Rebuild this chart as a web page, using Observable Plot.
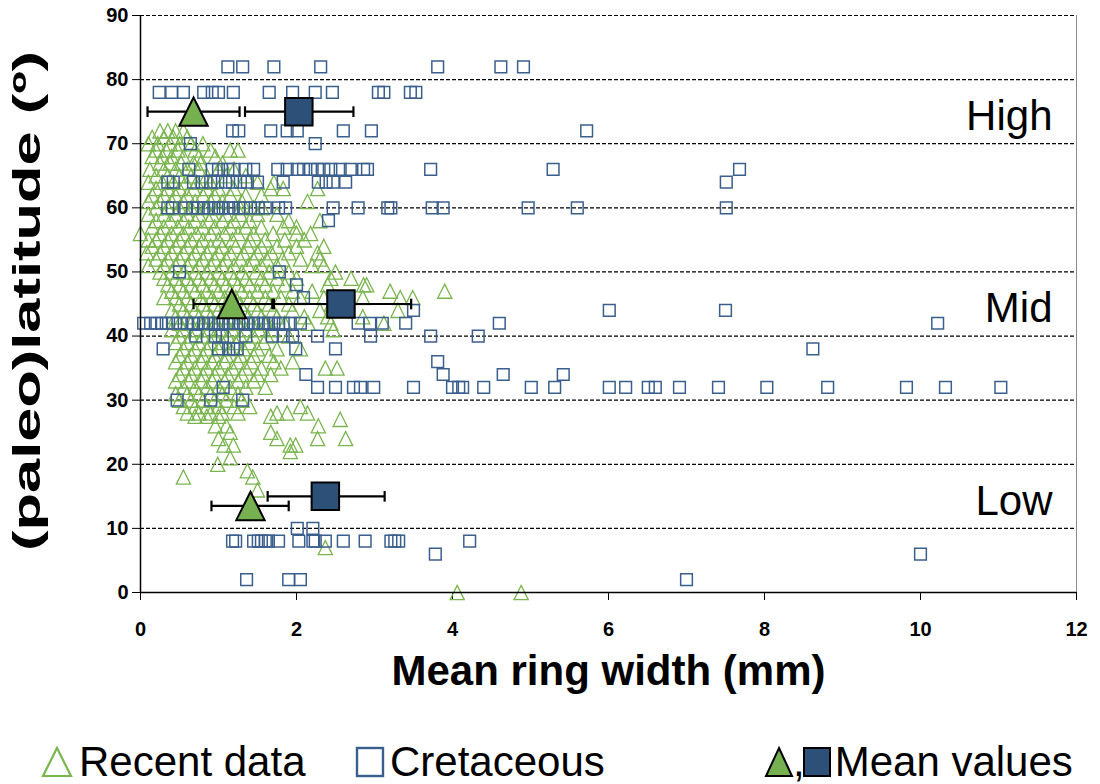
<!DOCTYPE html>
<html>
<head>
<meta charset="utf-8">
<script src="https://cdn.jsdelivr.net/npm/d3@7"></script>
<script src="https://cdn.jsdelivr.net/npm/@observablehq/plot@0.6"></script>
<style>
  body { margin: 0; background: #fff; font-family: "Liberation Sans", Arial, sans-serif; }
  #chart { width: 1100px; height: 712px; }
  #legend { position: relative; width: 1100px; height: 72px; font-size: 42px; color: #000; }
  #legend .it { position: absolute; top: 14px; height: 72px; display: flex; align-items: center; white-space: nowrap; }
  #legend svg { display: block; }
</style>
</head>
<body>
<div id="chart"></div>
<div id="legend">
  <div class="it" style="left:41px"><svg width="32" height="34"><path d="M16,3 L30,31 L2,31Z" fill="none" stroke="#7ab54f" stroke-width="2.2"/></svg><span style="margin-left:6px">Recent data</span></div>
  <div class="it" style="left:354px"><svg width="32" height="34"><rect x="3" y="3" width="26" height="28" fill="none" stroke="#3b5f8d" stroke-width="2.4"/></svg><span style="margin-left:4px">Cretaceous</span></div>
  <div class="it" style="left:763px"><svg width="31" height="34"><path d="M16,3 L29,31 L3,31Z" fill="#77b051" stroke="#000" stroke-width="2"/></svg><span style="margin-left:-1px;margin-right:-3px">,</span><svg width="30" height="34"><rect x="2" y="3" width="26" height="28" fill="#2d5079" stroke="#000" stroke-width="2"/></svg><span style="margin-left:3px">Mean values</span></div>
</div>
<script>
// Axis ticks
const xTicks = [0, 2, 4, 6, 8, 10, 12];
const yTicks = [0, 10, 20, 30, 40, 50, 60, 70, 80, 90];

// Recent data: latitude rows and the ring widths (mm) recorded at each
const recentLat = [72, 71, 70, 69, 68, 67, 66, 65, 64, 63, 62, 61, 60, 59, 58, 57, 56, 55, 54, 53, 52, 51, 50, 49, 48, 47, 46, 45, 44, 43, 42, 41, 40, 39, 38, 37, 36, 35, 34, 33, 32, 31, 30, 29, 28, 27.5, 27, 26, 25, 24, 23, 22, 21, 20, 19, 18, 16, 7, 0];
const recentWidth = [
  [0.25, 0.35, 0.45, 0.55],
  [0.15, 0.3, 0.42, 0.6],
  [0.1, 0.22, 0.38, 0.5, 0.65, 0.8],
  [0.2, 0.33, 0.48, 0.7, 0.9, 1.15, 1.25],
  [0.15, 0.28, 0.4, 0.55, 0.75, 0.96],
  [0.25, 0.38, 0.52, 0.68, 0.77, 1.05],
  [0.12, 0.3, 0.45, 0.6, 0.75, 1.0, 1.2],
  [0.2, 0.35, 0.5, 0.65, 0.85, 1.1, 1.35],
  [0.1, 0.28, 0.42, 0.58, 0.72, 0.9, 1.5, 1.71],
  [0.2, 0.35, 0.5, 0.68, 0.85, 1.0, 1.2, 1.67, 1.83, 2.27],
  [0.15, 0.3, 0.45, 0.6, 0.8, 0.95, 1.15, 1.35, 1.55],
  [0.1, 0.25, 0.4, 0.55, 0.7, 0.9, 1.05, 1.3, 2.14],
  [0.2, 0.35, 0.5, 0.65, 0.85, 1.0, 1.28, 1.45, 1.56],
  [0.1, 0.3, 0.45, 0.6, 0.75, 0.92, 1.1, 1.28, 1.5, 1.75],
  [0.2, 0.38, 0.55, 0.7, 0.88, 1.05, 1.2, 1.4, 1.9, 2.3],
  [0.15, 0.3, 0.48, 0.62, 0.8, 0.95, 1.15, 1.35, 1.55, 1.83, 2.0],
  [0.0, 0.25, 0.4, 0.55, 0.72, 0.9, 1.08, 1.25, 1.45, 1.7, 2.0, 2.18],
  [0.1, 0.2, 0.35, 0.5, 0.65, 0.8, 1.0, 1.18, 1.4, 1.6, 1.85, 2.1],
  [0.15, 0.3, 0.45, 0.6, 0.75, 0.9, 1.05, 1.22, 1.38, 1.55, 1.75, 2.0, 2.35],
  [0.08, 0.25, 0.4, 0.55, 0.7, 0.85, 1.0, 1.15, 1.32, 1.5, 1.68, 1.9, 2.27],
  [0.2, 0.35, 0.5, 0.65, 0.8, 0.95, 1.1, 1.28, 1.45, 1.62, 1.82, 2.05, 2.3],
  [0.1, 0.3, 0.45, 0.6, 0.75, 0.9, 1.05, 1.2, 1.38, 1.55, 1.75, 2.2, 2.35],
  [0.25, 0.4, 0.55, 0.7, 0.85, 1.0, 1.15, 1.3, 1.48, 1.65, 1.9, 2.5],
  [0.3, 0.45, 0.6, 0.75, 0.9, 1.05, 1.2, 1.35, 1.55, 1.75, 2.0, 2.44, 2.7],
  [0.35, 0.5, 0.65, 0.8, 0.95, 1.1, 1.25, 1.4, 1.6, 1.85, 2.4, 2.86, 2.9],
  [0.4, 0.55, 0.7, 0.85, 1.0, 1.15, 1.3, 1.5, 1.7, 1.95, 2.2, 3.2, 3.9],
  [0.3, 0.45, 0.6, 0.78, 0.92, 1.08, 1.22, 1.4, 1.6, 1.8, 2.05, 2.35, 2.85, 3.33, 3.49],
  [0.5, 0.65, 0.8, 0.95, 1.1, 1.28, 1.45, 1.65, 1.9, 2.45, 2.6],
  [0.4, 0.55, 0.7, 0.85, 1.0, 1.15, 1.32, 1.5, 1.7, 1.95, 2.3, 3.3],
  [0.45, 0.6, 0.75, 0.9, 1.05, 1.2, 1.38, 1.55, 1.75, 2.1, 2.4, 2.85],
  [0.5, 0.65, 0.8, 0.95, 1.1, 1.25, 1.42, 1.6, 1.85, 2.15, 2.44, 3.12],
  [0.4, 0.55, 0.72, 0.88, 1.02, 1.18, 1.35, 1.52, 1.7, 2.47],
  [0.5, 0.65, 0.8, 0.95, 1.12, 1.28, 1.45, 1.62, 1.9],
  [0.45, 0.6, 0.75, 0.9, 1.05, 1.22, 1.4, 1.58],
  [0.55, 0.7, 0.85, 1.0, 1.15, 1.32, 1.5, 1.75, 2.05],
  [0.5, 0.65, 0.8, 0.95, 1.1, 1.28, 1.45, 1.65],
  [0.45, 0.6, 0.78, 0.92, 1.08, 1.25, 1.42, 1.71, 1.95],
  [0.55, 0.7, 0.85, 1.0, 1.18, 1.35, 1.55, 1.8, 2.37, 2.52],
  [0.5, 0.65, 0.8, 0.95, 1.12, 1.3, 1.5, 1.67],
  [0.45, 0.62, 0.78, 0.92, 1.08, 1.25, 1.45],
  [0.55, 0.7, 0.85, 1.0, 1.15, 1.35, 1.6],
  [0.45, 0.6, 0.75, 0.9, 1.05, 1.25],
  [0.5, 0.65, 0.8, 0.95, 1.1, 1.3],
  [0.55, 0.7, 0.85, 1.0, 1.2, 1.4, 2.05],
  [0.6, 0.75, 0.9, 1.05, 1.25, 1.75, 1.88, 2.14],
  [0.7, 0.85, 1.0, 1.67],
  [2.56],
  [0.96, 1.1, 2.28],
  [1.15, 1.67],
  [1.0, 1.75, 2.27, 2.63],
  [1.07, 1.19, 1.92, 1.99],
  [1.92],
  [1.15],
  [0.99],
  [1.37],
  [0.55, 1.44],
  [1.5],
  [2.37],
  [4.06, 4.88]
];

// Cretaceous data: palaeolatitude rows and ring widths (mm)
const cretLat = [82, 78, 72, 70, 66, 64, 60, 58, 50, 48, 46, 44, 42, 40, 38, 36, 34, 32, 30, 10, 8, 6, 2];
const cretWidth = [
  [1.12, 1.31, 1.71, 2.31, 3.81, 4.62, 4.91],
  [0.24, 0.40, 0.55, 0.81, 0.92, 1.0, 1.19, 1.65, 1.95, 2.24, 2.46, 3.05, 3.12, 3.46, 3.53],
  [1.18, 1.26, 1.67, 1.88, 2.01, 2.60, 2.96, 5.72],
  [0.64, 2.24],
  [0.62, 0.92, 1.0, 1.12, 1.19, 1.35, 1.45, 1.76, 1.88, 2.01, 2.09, 2.18, 2.27, 2.35, 2.44, 2.56, 2.69, 2.86, 2.91, 3.72, 5.29, 7.68],
  [0.35, 0.42, 0.68, 0.79, 0.90, 0.99, 1.09, 1.18, 1.28, 1.37, 1.50, 1.83, 2.28, 2.38, 2.47, 2.63, 7.51],
  [0.35, 0.41, 0.58, 0.67, 0.74, 0.81, 0.87, 0.94, 1.0, 1.06, 1.13, 1.19, 1.26, 1.32, 1.41, 1.51, 1.60, 1.77, 1.86, 2.47, 2.79, 3.17, 3.21, 3.74, 3.88, 4.97, 5.60, 7.51],
  [2.41],
  [0.50, 1.78],
  [2.0],
  [2.09],
  [3.50, 6.01, 7.50],
  [0.04, 0.13, 0.21, 0.27, 0.33, 0.41, 0.51, 0.60, 0.68, 0.74, 0.81, 0.87, 0.94, 1.0, 1.06, 1.13, 1.19, 1.26, 1.32, 1.38, 1.45, 1.51, 1.58, 1.64, 1.71, 1.77, 1.83, 1.92, 2.05, 2.79, 2.94, 3.10, 3.40, 4.60, 10.22],
  [0.71, 0.96, 1.05, 1.35, 1.69, 1.83, 1.95, 2.27, 2.95, 3.72, 4.33],
  [0.29, 1.0, 1.13, 1.19, 1.24, 1.99, 2.50, 8.62],
  [3.81],
  [2.12, 3.88, 4.65, 5.42],
  [1.06, 2.27, 2.50, 2.73, 2.82, 2.99, 3.50, 4.0, 4.08, 4.13, 4.40, 5.01, 5.31, 6.01, 6.22, 6.51, 6.60, 6.91, 7.41, 8.03, 8.81, 9.82, 10.32, 11.03],
  [0.47, 0.90, 1.31],
  [2.01, 2.21],
  [1.18, 1.22, 1.45, 1.51, 1.55, 1.60, 1.64, 1.77, 2.03, 2.21, 2.24, 2.37, 2.60, 2.88, 3.21, 3.26, 3.31, 4.22],
  [3.78, 10.0],
  [1.36, 1.90, 2.05, 7.0]
];

// Latitude-band means with their ranges
const zoneNames = ["High", "Mid", "Low"];
const recentMeanWidth = [0.68, 1.17, 1.41];
const recentMeanLat = [75, 45, 13.5];
const recentLow = [0.09, 0.68, 0.91];
const recentHigh = [1.27, 1.69, 1.90];
const cretMeanWidth = [2.03, 2.57, 2.37];
const cretMeanLat = [75, 45, 15];
const cretLow = [1.34, 1.71, 1.63];
const cretHigh = [2.73, 3.47, 3.13];

const xTitle = "Mean ring width (mm)";
const yTitle = "(paleo)latitude (º)";

const green = "#7ab54f";
const blue = "#3b5f8d";

const recent = recentLat.flatMap((lat, i) => recentWidth[i].map(w => ({w, lat})));
const cret = cretLat.flatMap((lat, i) => cretWidth[i].map(w => ({w, lat})));
const means = zoneNames.map((name, i) => ({
  name,
  rw: recentMeanWidth[i], rlat: recentMeanLat[i], rlo: recentLow[i], rhi: recentHigh[i],
  cw: cretMeanWidth[i], clat: cretMeanLat[i], clo: cretLow[i], chi: cretHigh[i]
}));
const bars = means.flatMap(d => [
  {lat: d.rlat, lo: d.rlo, hi: d.rhi},
  {lat: d.clat, lo: d.clo, hi: d.chi}
]);
const caps = bars.flatMap(d => [{w: d.lo, lat: d.lat}, {w: d.hi, lat: d.lat}]);

// Spreadsheet-style triangle: as tall as it is wide
const tallTriangle = {
  draw(ctx, size) {
    const s = Math.sqrt(size);
    ctx.moveTo(0, -s / 2);
    ctx.lineTo(s / 2, s / 2);
    ctx.lineTo(-s / 2, s / 2);
    ctx.closePath();
  }
};
// Vertical cap for the range bars
const capLine = {
  draw(ctx, size) {
    const h = Math.sqrt(size) / 2;
    ctx.moveTo(0, -h);
    ctx.lineTo(0, h);
  }
};

const chart = Plot.plot({
  width: 1100,
  height: 712,
  marginLeft: 140,
  marginRight: 24,
  marginTop: 15,
  marginBottom: 120,
  style: {fontFamily: "Liberation Sans, Arial, sans-serif", background: "#fff", color: "#000", overflow: "visible"},
  x: {domain: [0, 12]},
  y: {domain: [0, 90]},
  marks: [
    Plot.gridY(yTicks.filter(d => d > 0), {stroke: "#000", strokeOpacity: 1, strokeWidth: 1.2, strokeDasharray: "4,2"}),
    Plot.ruleX([12], {stroke: "#8a8a8a", strokeWidth: 1}),
    Plot.axisY(yTicks, {tickSize: 8, tickPadding: 4, fontSize: 20, fontWeight: "bold", label: null, stroke: "#000"}),
    Plot.axisX(xTicks, {tickSize: 8, tickPadding: 21, fontSize: 20, fontWeight: "bold", label: null, stroke: "#000"}),
    Plot.dot(recent, {x: "w", y: "lat", symbol: tallTriangle, r: 8, stroke: green, strokeWidth: 1.3, fill: "none"}),
    Plot.dot(cret, {x: "w", y: "lat", symbol: "square", r: 6.6, stroke: blue, strokeWidth: 1.5, fill: "none"}),
    Plot.ruleX([0], {stroke: "#000", strokeWidth: 1.5}),
    Plot.ruleY([0], {stroke: "#000", strokeWidth: 1.5}),
    Plot.ruleY(bars, {y: "lat", x1: "lo", x2: "hi", stroke: "#000", strokeWidth: 2.2}),
    Plot.dot(caps, {x: "w", y: "lat", symbol: capLine, r: 6, stroke: "#000", strokeWidth: 2.2}),
    Plot.dot(means, {x: "rw", y: "rlat", symbol: tallTriangle, r: 16, fill: "#77b051", stroke: "#000", strokeWidth: 2}),
    Plot.dot(means, {x: "cw", y: "clat", symbol: "square", r: 15.5, fill: "#2d5079", stroke: "#000", strokeWidth: 2}),
    Plot.text(means, {y: "clat", text: "name", frameAnchor: "right", textAnchor: "end", dx: -24, dy: 5, fontSize: 42, fill: "#000"}),
    Plot.text([xTitle], {text: d => d, frameAnchor: "bottom", textAnchor: "middle", dy: 92, fontSize: 42, fontWeight: "bold", fill: "#000"}),
    Plot.text([yTitle], {text: d => d, frameAnchor: "left", textAnchor: "middle", dx: -113, dy: -3, rotate: -90, fontSize: 38, fontWeight: "bold", fill: "#000"})
  ]
});

// The vertical axis title runs the full height of the frame
for (const t of chart.querySelectorAll("text")) {
  if (t.textContent === yTitle) {
    t.setAttribute("textLength", "500");
    t.setAttribute("lengthAdjust", "spacingAndGlyphs");
  }
}
document.getElementById("chart").appendChild(chart);
</script>
</body>
</html>
